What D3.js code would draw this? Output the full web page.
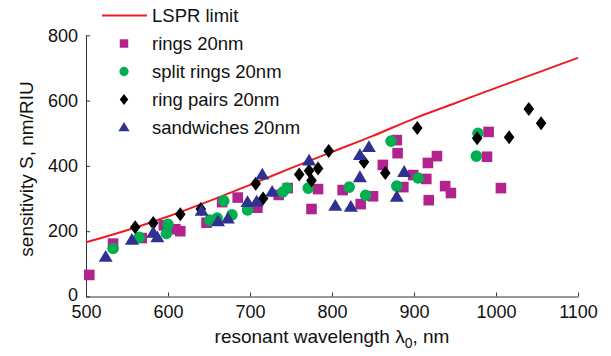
<!DOCTYPE html>
<html>
<head>
<meta charset="utf-8">
<script src="https://cdn.jsdelivr.net/npm/d3@7"></script>
<style>
  body { margin: 0; background: #fff; }
  svg { display: block; }
</style>
</head>
<body>
<svg id="chart" width="611" height="356"></svg>
<script>
// wavelength (nm) / sensitivity (nm/RIU)
const limitL = [500, 550, 600, 650, 700, 750, 800, 850, 900, 950, 1000, 1050, 1100];
const limitS = [166, 203, 245, 292, 342, 393, 443, 492, 545, 592, 639, 685, 731];

const ringsL = [504, 533, 568, 595, 609, 615, 647, 666, 685, 709, 735, 746, 775, 783, 813, 835, 850, 862, 879, 880, 887, 899, 915, 917, 918, 928, 938, 945, 989, 991, 1006];
const ringsS = [66, 162, 179, 218, 206, 200, 226, 289, 303, 272, 311, 332, 268, 329, 326, 283, 307, 403, 479, 439, 335, 372, 360, 409, 295, 430, 338, 317, 428, 504, 332];

const splitL = [533, 565, 598, 600, 651, 660, 668, 678, 697, 740, 745, 771, 821, 841, 872, 879, 905, 976, 978];
const splitS = [147, 181, 193, 221, 234, 240, 293, 250, 265, 320, 332, 332, 335, 310, 476, 338, 363, 430, 500];

const pairsL = [560, 582, 615, 640, 707, 716, 760, 772, 783, 775, 796, 839, 865, 904, 977, 1016, 1040, 1055];
const pairsS = [212, 225, 252, 268, 345, 300, 374, 385, 392, 355, 446, 412, 378, 516, 485, 488, 574, 531];

const sandL = [524, 556, 582, 587, 641, 661, 673, 697, 708, 715, 727, 772, 804, 823, 834, 834, 845, 879, 888];
const sandS = [121, 173, 195, 181, 262, 230, 238, 289, 290, 373, 320, 416, 277, 274, 365, 433, 457, 305, 381];

const xTicks = [500, 600, 700, 800, 900, 1000, 1100];
const yTicks = [0, 200, 400, 600, 800];

const colRing = "#b2238e", colSplit = "#00b050", colPair = "#000000", colSand = "#2e3192", colLimit = "#ee1c25";

const shapes = {
  square: "M-5.3,-5.3H5.3V5.3H-5.3Z",
  circle: "M5.8,0A5.8,5.8 0 1,1 -5.8,0A5.8,5.8 0 1,1 5.8,0Z",
  diamond: "M0,-7L5.3,0L0,7L-5.3,0Z",
  triangle: "M0,-7L7,4.8L-7,4.8Z"
};

const series = [
  { name: "rings 20nm", L: ringsL, S: ringsS, color: colRing, shape: "square" },
  { name: "split rings 20nm", L: splitL, S: splitS, color: colSplit, shape: "circle" },
  { name: "ring pairs 20nm", L: pairsL, S: pairsS, color: colPair, shape: "diamond" },
  { name: "sandwiches 20nm", L: sandL, S: sandS, color: colSand, shape: "triangle" }
];

const svg = d3.select("#chart")
  .style("font-family", "'Liberation Sans', Arial, sans-serif");

const x = d3.scaleLinear().domain([500, 1100]).range([86, 578]);
const y = d3.scaleLinear().domain([0, 800]).range([296.5, 35.3]);

// axes
const axisColor = "#333";
const xAxis = svg.append("g")
  .attr("transform", `translate(0,${y(0)})`)
  .call(d3.axisBottom(x).tickValues(xTicks).tickFormat(d3.format("d"))
    .tickSizeInner(-4).tickSizeOuter(0).tickPadding(9));
xAxis.select(".domain").attr("stroke", axisColor);
xAxis.selectAll(".tick line").attr("stroke", axisColor);
xAxis.selectAll(".tick text").attr("font-size", 18).attr("fill", "#111").attr("dy", "0.71em");

const yAxis = svg.append("g")
  .attr("transform", `translate(${x(500)},0)`)
  .call(d3.axisLeft(y).tickValues(yTicks).tickSizeInner(-4).tickSizeOuter(0).tickPadding(8));
yAxis.select(".domain").attr("stroke", axisColor);
yAxis.selectAll(".tick line").attr("stroke", axisColor);
yAxis.selectAll(".tick text").attr("font-size", 18).attr("fill", "#111");
// keep the "0" clear of the "500" below it
yAxis.selectAll(".tick text").filter(d => d === 0).attr("dy", "0.2em");

// LSPR limit curve
const line = d3.line()
  .x((d, i) => x(limitL[i]))
  .y(d => y(d))
  .curve(d3.curveMonotoneX);

svg.append("path")
  .datum(limitS)
  .attr("d", line)
  .attr("fill", "none")
  .attr("stroke", colLimit)
  .attr("stroke-width", 2);

// markers
series.forEach(function(s) {
  svg.append("g").selectAll("path")
    .data(s.L)
    .enter()
    .append("path")
    .attr("d", shapes[s.shape])
    .attr("transform", (d, i) => `translate(${x(d)},${y(s.S[i])})`)
    .attr("fill", s.color);
});

// legend
const legend = svg.append("g").attr("font-size", 18.5).attr("fill", "#111");
legend.append("line")
  .attr("x1", 102).attr("x2", 147).attr("y1", 15.5).attr("y2", 15.5)
  .attr("stroke", colLimit).attr("stroke-width", 2);
legend.append("text").attr("x", 152).attr("y", 15.5).attr("dy", "0.36em").text("LSPR limit");

series.forEach(function(s, i) {
  const ly = 43.5 + i * 28;
  legend.append("path")
    .attr("d", shapes[s.shape])
    .attr("transform", `translate(124,${ly}) scale(0.8)`)
    .attr("fill", s.color);
  legend.append("text").attr("x", 152).attr("y", ly).attr("dy", "0.36em").text(s.name);
});

// axis titles
const xt = svg.append("text")
  .attr("x", 332).attr("y", 343)
  .attr("text-anchor", "middle")
  .attr("font-size", 19).attr("fill", "#111");
xt.append("tspan").text("resonant wavelength λ");
xt.append("tspan").attr("dy", 5).attr("font-size", 14).text("0");
xt.append("tspan").attr("dy", -5).text(", nm");

svg.append("text")
  .attr("transform", "translate(33,169) rotate(-90)")
  .attr("text-anchor", "middle")
  .attr("font-size", 19).attr("fill", "#111")
  .text("sensitivity S, nm/RIU");
</script>
</body>
</html>
